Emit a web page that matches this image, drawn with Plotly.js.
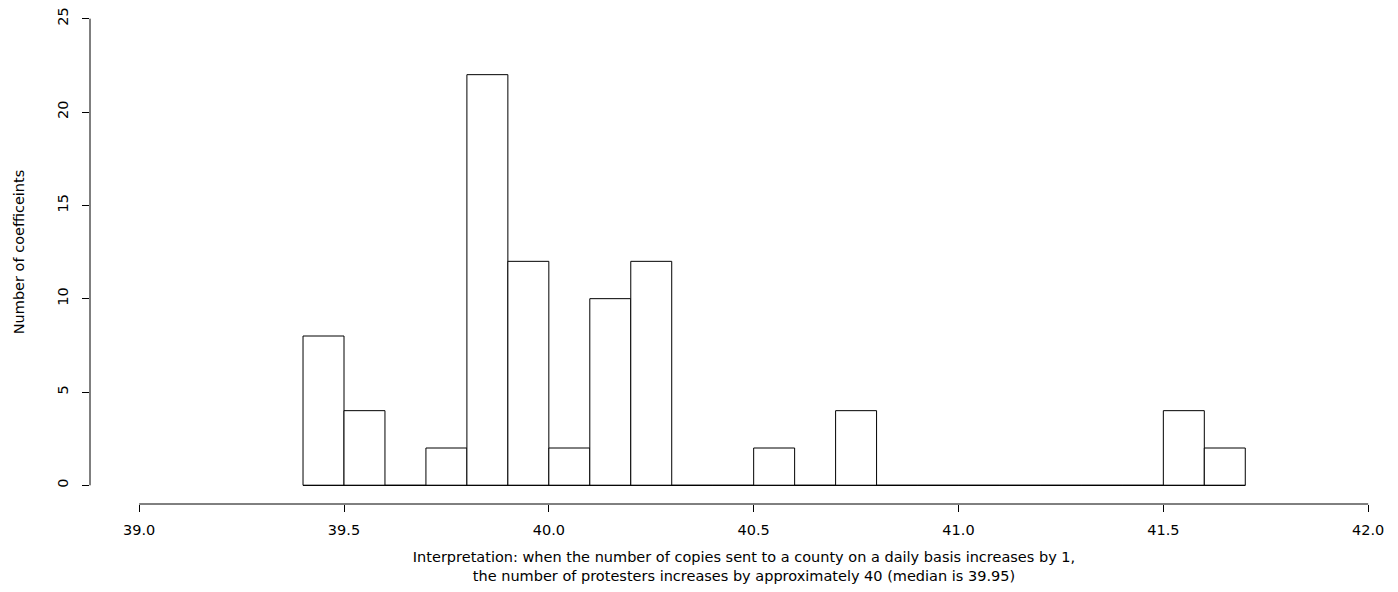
<!DOCTYPE html>
<html><head><meta charset="utf-8">
<script src="https://cdn.plot.ly/plotly-3.0.1.min.js"></script>
<style>body{margin:0;padding:0;background:#fff}</style>
</head><body>
<div id="chart" style="width:1398px;height:592px"></div>
<script>
// Histogram bins (start of each 0.1-wide bin) and counts
const binStarts = [39.4, 39.5, 39.6, 39.7, 39.8, 39.9, 40.0, 40.1, 40.2, 40.3, 40.4, 40.5, 40.6, 40.7, 40.8, 40.9, 41.0, 41.1, 41.2, 41.3, 41.4, 41.5, 41.6];
const counts    = [8,    4,    0,    2,    22,   12,   2,    10,   12,   0,    0,    2,    0,    4,    0,    0,    0,    0,    0,    0,    0,    4,    2];
const binWidth = 0.1;
const xTicks = [39.0, 39.5, 40.0, 40.5, 41.0, 41.5, 42.0];
const xTickLabels = ["39.0", "39.5", "40.0", "40.5", "41.0", "41.5", "42.0"];
const yTicks = [0, 5, 10, 15, 20, 25];
const yTickLabels = ["0", "5", "10", "15", "20", "25"];

const centers = binStarts.map(s => +(s + binWidth / 2).toFixed(3));
const hFont = {family: "DejaVu Sans", size: 14.5, color: "#000"};

const trace = {
  type: "bar",
  x: centers,
  y: counts,
  width: binWidth,
  marker: {color: "#fff", line: {color: "#000", width: 1}},
  hoverinfo: "x+y"
};

const firstEdge = binStarts[0];
const lastEdge = +(binStarts[binStarts.length - 1] + binWidth).toFixed(3);

const layout = {
  width: 1398, height: 592,
  margin: {l: 90, r: 0, t: 0, b: 88},
  paper_bgcolor: "#fff", plot_bgcolor: "#fff",
  font: hFont,
  showlegend: false,
  bargap: 0,
  xaxis: {
    range: [38.88, 42.0728],
    tickvals: xTicks, ticktext: xTickLabels,
    ticks: "outside", ticklen: 7, tickcolor: "#000", tickwidth: 1,
    ticklabelstandoff: 6,
    showgrid: false, zeroline: false, showline: false,
    tickfont: hFont,
    title: {text: "Interpretation: when the number of copies sent to a county on a daily basis increases by 1,<br>the number of protesters increases by approximately 40 (median is 39.95)", font: hFont, standoff: 14}
  },
  yaxis: {
    range: [-1, 26],
    tickvals: yTicks, ticktext: yTickLabels,
    tickangle: -90,
    ticks: "outside", ticklen: 7, tickcolor: "#000", tickwidth: 1,
    ticklabelstandoff: 8,
    showgrid: false, zeroline: false, showline: false,
    tickfont: hFont,
    title: {text: "Number of coefficeints", font: hFont, standoff: 27}
  },
  shapes: [
    {type: "line", xref: "x", yref: "paper", x0: xTicks[0], x1: xTicks[xTicks.length - 1], y0: 0, y1: 0, line: {color: "#000", width: 1}},
    {type: "line", xref: "paper", yref: "y", x0: 0, x1: 0, y0: yTicks[0], y1: yTicks[yTicks.length - 1], line: {color: "#000", width: 1}},
    {type: "line", xref: "x", yref: "y", x0: firstEdge, x1: lastEdge, y0: 0, y1: 0, line: {color: "#000", width: 1}, layer: "above"}
  ]
};

Plotly.newPlot("chart", [trace], layout, {displayModeBar: false, staticPlot: true});
</script>
</body></html>
